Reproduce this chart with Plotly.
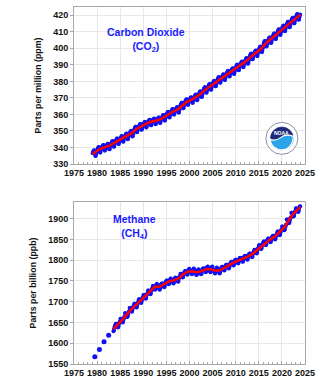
import plotly.graph_objects as go

# ---------------- DATA ----------------
co2_start_year = 1979  # monthly series starts January 1979
co2_monthly = [
    336.5,337.2,337.7,338.2,338.3,337.4,336.0,334.9,335.0,336.2,337.4,338.1,
    338.5,339.2,339.7,340.2,340.3,339.4,338.0,336.9,337.0,338.2,339.4,340.1,
    339.7,340.4,340.9,341.4,341.5,340.6,339.2,338.1,338.2,339.4,340.6,341.3,
    340.5,341.2,341.7,342.2,342.3,341.4,340.0,338.9,339.0,340.2,341.4,342.1,
    342.1,342.8,343.3,343.8,343.9,343.0,341.6,340.5,340.6,341.8,343.0,343.7,
    343.7,344.4,344.9,345.4,345.5,344.6,343.2,342.1,342.2,343.4,344.6,345.3,
    345.1,345.8,346.3,346.8,346.9,346.0,344.6,343.5,343.6,344.8,346.0,346.7,
    346.6,347.3,347.8,348.3,348.4,347.5,346.1,345.0,345.1,346.3,347.5,348.2,
    348.3,349.0,349.5,350.0,350.1,349.2,347.8,346.7,346.8,348.0,349.2,349.9,
    350.8,351.5,352.0,352.5,352.6,351.7,350.3,349.2,349.3,350.5,351.7,352.4,
    352.4,353.1,353.6,354.1,354.2,353.3,351.9,350.8,350.9,352.1,353.3,354.0,
    353.7,354.4,354.9,355.4,355.5,354.6,353.2,352.1,352.2,353.4,354.6,355.3,
    355.0,355.7,356.2,356.7,356.8,355.9,354.5,353.4,353.5,354.7,355.9,356.6,
    355.7,356.4,356.9,357.4,357.5,356.6,355.2,354.1,354.2,355.4,356.6,357.3,
    356.4,357.1,357.6,358.1,358.2,357.3,355.9,354.8,354.9,356.1,357.3,358.0,
    357.9,358.6,359.1,359.6,359.7,358.8,357.4,356.3,356.4,357.6,358.8,359.5,
    359.8,360.5,361.0,361.5,361.6,360.7,359.3,358.2,358.3,359.5,360.7,361.4,
    361.5,362.2,362.7,363.2,363.3,362.4,361.0,359.9,360.0,361.2,362.4,363.1,
    362.7,363.4,363.9,364.4,364.5,363.6,362.2,361.1,361.2,362.4,363.6,364.3,
    365.3,366.0,366.5,367.0,367.1,366.2,364.8,363.7,363.8,365.0,366.2,366.9,
    367.4,368.1,368.6,369.1,369.2,368.3,366.9,365.8,365.9,367.1,368.3,369.0,
    368.6,369.3,369.8,370.3,370.4,369.5,368.1,367.0,367.1,368.3,369.5,370.2,
    370.2,370.9,371.4,371.9,372.0,371.1,369.7,368.6,368.7,369.9,371.1,371.8,
    372.2,372.9,373.4,373.9,374.0,373.1,371.7,370.6,370.7,371.9,373.1,373.8,
    374.7,375.4,375.9,376.4,376.5,375.6,374.2,373.1,373.2,374.4,375.6,376.3,
    376.6,377.3,377.8,378.3,378.4,377.5,376.1,375.0,375.1,376.3,377.5,378.2,
    378.6,379.3,379.8,380.3,380.4,379.5,378.1,377.0,377.1,378.3,379.5,380.2,
    380.8,381.5,382.0,382.5,382.6,381.7,380.3,379.2,379.3,380.5,381.7,382.4,
    382.5,383.2,383.7,384.2,384.3,383.4,382.0,380.9,381.0,382.2,383.4,384.1,
    384.6,385.3,385.8,386.3,386.4,385.5,384.1,383.0,383.1,384.3,385.5,386.2,
    386.1,386.8,387.3,387.8,387.9,387.0,385.6,384.5,384.6,385.8,387.0,387.7,
    388.4,389.1,389.6,390.1,390.2,389.3,387.9,386.8,386.9,388.1,389.3,390.0,
    390.2,390.9,391.4,391.9,392.0,391.1,389.7,388.6,388.7,389.9,391.1,391.8,
    392.3,393.0,393.5,394.0,394.1,393.2,391.8,390.7,390.8,392.0,393.2,393.9,
    395.0,395.7,396.2,396.7,396.8,395.9,394.5,393.4,393.5,394.7,395.9,396.6,
    396.9,397.6,398.1,398.6,398.7,397.8,396.4,395.3,395.4,396.6,397.8,398.5,
    399.3,400.0,400.5,401.0,401.1,400.2,398.8,397.7,397.8,399.0,400.2,400.9,
    402.7,403.4,403.9,404.4,404.5,403.6,402.2,401.1,401.2,402.4,403.6,404.3,
    404.8,405.5,406.0,406.5,406.6,405.7,404.3,403.2,403.3,404.5,405.7,406.4,
    407.2,407.9,408.4,408.9,409.0,408.1,406.7,405.6,405.7,406.9,408.1,408.8,
    409.7,410.4,410.9,411.4,411.5,410.6,409.2,408.1,408.2,409.4,410.6,411.3,
    412.0,412.7,413.2,413.7,413.8,412.9,411.5,410.4,410.5,411.7,412.9,413.6,
    414.3,415.0,415.5,416.0,416.1,415.2,413.8,412.7,412.8,414.0,415.2,415.9,
    416.7,417.4,417.9,418.4,418.5,417.6,416.2,415.1,415.2,416.4,417.6,418.3,
    418.9,419.6,420.1,420.6,420.7,419.8,418.4,417.3,417.4,418.6,419.8,420.5,
]

co2_trend_years = [1979.0, 1979.5, 1980.5, 1981.5, 1982.5, 1983.5, 1984.5, 1985.5, 1986.5, 1987.5,
                   1988.5, 1989.5, 1990.5, 1991.5, 1992.5, 1993.5, 1994.5, 1995.5, 1996.5, 1997.5,
                   1998.5, 1999.5, 2000.5, 2001.5, 2002.5, 2003.5, 2004.5, 2005.5, 2006.5, 2007.5,
                   2008.5, 2009.5, 2010.5, 2011.5, 2012.5, 2013.5, 2014.5, 2015.5, 2016.5, 2017.5,
                   2018.5, 2019.5, 2020.5, 2021.5, 2022.5, 2023.5, 2024.0]
co2_trend = [335.9, 336.9, 338.9, 340.1, 340.9, 342.5, 344.1, 345.5, 347.0, 348.7,
             351.2, 352.8, 354.1, 355.4, 356.1, 356.8, 358.3, 360.2, 361.9, 363.1,
             365.7, 367.8, 369.0, 370.6, 372.6, 375.1, 377.0, 379.0, 381.2, 382.9,
             385.0, 386.5, 388.8, 390.6, 392.7, 395.4, 397.3, 399.7, 403.1, 405.2,
             407.6, 410.1, 412.4, 414.7, 417.1, 419.3, 420.4]

# Early methane annual values (dots) 1979-1982
ch4_early_years = [1979.5, 1980.5, 1981.5, 1982.5]
ch4_early = [1567.5, 1585.0, 1603.5, 1619.5]

ch4_start_year = 1983.5  # monthly series starts July 1983
ch4_monthly = [
    1629,1631,1636,1640,1642,1643,
    1647,1647,1646,1644,1642,1639,1638,1640,1645,1649,1651,1652,
    1659,1659,1658,1656,1654,1651,1650,1652,1657,1661,1663,1664,
    1672,1672,1671,1669,1667,1664,1663,1665,1670,1674,1676,1677,
    1685,1685,1684,1682,1680,1677,1676,1678,1683,1687,1689,1690,
    1695,1695,1694,1692,1690,1687,1686,1688,1693,1697,1699,1700,
    1706,1706,1705,1703,1701,1698,1697,1699,1704,1708,1710,1711,
    1716,1716,1715,1713,1711,1708,1707,1709,1714,1718,1720,1721,
    1727,1727,1726,1724,1722,1719,1718,1720,1725,1729,1731,1732,
    1738,1738,1737,1735,1733,1730,1729,1731,1736,1740,1742,1743,
    1738,1738,1737,1735,1733,1730,1729,1731,1736,1740,1742,1743,
    1744,1744,1743,1741,1739,1736,1735,1737,1742,1746,1748,1749,
    1751,1751,1750,1748,1746,1743,1742,1744,1749,1753,1755,1756,
    1753,1753,1752,1750,1748,1745,1744,1746,1751,1755,1757,1758,
    1757,1757,1756,1754,1752,1749,1748,1750,1755,1759,1761,1762,
    1767,1767,1766,1764,1762,1759,1758,1760,1765,1769,1771,1772,
    1774,1774,1773,1771,1769,1766,1765,1767,1772,1776,1778,1779,
    1775,1775,1774,1772,1770,1767,1766,1768,1773,1777,1779,1780,
    1773,1773,1772,1770,1768,1765,1764,1766,1771,1775,1777,1778,
    1775,1775,1774,1772,1770,1767,1766,1768,1773,1777,1779,1780,
    1780,1780,1779,1777,1775,1772,1771,1773,1778,1782,1784,1785,
    1780,1780,1779,1777,1775,1772,1771,1773,1778,1782,1784,1785,
    1777,1777,1776,1774,1772,1769,1768,1770,1775,1779,1781,1782,
    1777,1777,1776,1774,1772,1769,1768,1770,1775,1779,1781,1782,
    1784,1784,1783,1781,1779,1776,1775,1777,1782,1786,1788,1789,
    1789,1789,1788,1786,1784,1781,1780,1782,1787,1791,1793,1794,
    1796,1796,1795,1793,1791,1788,1787,1789,1794,1798,1800,1801,
    1801,1801,1800,1798,1796,1793,1792,1794,1799,1803,1805,1806,
    1805,1805,1804,1802,1800,1797,1796,1798,1803,1807,1809,1810,
    1810,1810,1809,1807,1805,1802,1801,1803,1808,1812,1814,1815,
    1816,1816,1815,1813,1811,1808,1807,1809,1814,1818,1820,1821,
    1825,1825,1824,1822,1820,1817,1816,1818,1823,1827,1829,1830,
    1836,1836,1835,1833,1831,1828,1827,1829,1834,1838,1840,1841,
    1845,1845,1844,1842,1840,1837,1836,1838,1843,1847,1849,1850,
    1852,1852,1851,1849,1847,1844,1843,1845,1850,1854,1856,1857,
    1859,1859,1858,1856,1854,1851,1850,1852,1857,1861,1863,1864,
    1869,1869,1868,1866,1864,1861,1860,1862,1867,1871,1873,1874,
    1881,1881,1880,1878,1876,1873,1872,1874,1879,1883,1885,1886,
    1898,1898,1897,1895,1893,1890,1889,1891,1896,1900,1902,1903,
    1914,1914,1913,1911,1909,1906,1905,1907,1912,1916,1918,1919,
    1925,1925,1924,1922,1920,1917,1916,1918,1923,1927,1929,1930,
]

ch4_trend_years = [1983.5, 1984.5, 1985.5, 1986.5, 1987.5, 1988.5, 1989.5, 1990.5, 1991.5, 1992.5,
                   1993.5, 1994.5, 1995.5, 1996.5, 1997.5, 1998.5, 1999.5, 2000.5, 2001.5, 2002.5,
                   2003.5, 2004.5, 2005.5, 2006.5, 2007.5, 2008.5, 2009.5, 2010.5, 2011.5, 2012.5,
                   2013.5, 2014.5, 2015.5, 2016.5, 2017.5, 2018.5, 2019.5, 2020.5, 2021.5, 2022.5,
                   2023.5, 2024.0]
ch4_trend = [1634, 1645, 1657, 1670, 1683, 1693, 1704, 1714, 1725, 1736,
             1736, 1742, 1749, 1751, 1755, 1765, 1772, 1773, 1771, 1773,
             1778, 1778, 1775, 1775, 1782, 1787, 1794, 1799, 1803, 1808,
             1814, 1823, 1834, 1843, 1850, 1857, 1867, 1879, 1896, 1912,
             1923, 1928]

x_ticks = [1975, 1980, 1985, 1990, 1995, 2000, 2005, 2010, 2015, 2020, 2025]

# ---------------- FIGURE ----------------
BLUE = "#1010f4"
RED = "#ff0000"

co2_x = [co2_start_year + (i + 0.5) / 12 for i in range(len(co2_monthly))]
ch4_x = [ch4_start_year + (i + 0.5) / 12 for i in range(len(ch4_monthly))]

fig = go.Figure()
fig.add_trace(go.Scatter(x=co2_x, y=co2_monthly, mode="markers",
                         marker=dict(color=BLUE, size=4), xaxis="x", yaxis="y",
                         showlegend=False, hoverinfo="skip"))
fig.add_trace(go.Scatter(x=co2_trend_years, y=co2_trend, mode="lines",
                         line=dict(color=RED, width=2.5), xaxis="x", yaxis="y",
                         showlegend=False))
fig.add_trace(go.Scatter(x=ch4_early_years, y=ch4_early, mode="markers",
                         marker=dict(color=BLUE, size=5), xaxis="x2", yaxis="y2",
                         showlegend=False))
fig.add_trace(go.Scatter(x=ch4_x, y=ch4_monthly, mode="markers",
                         marker=dict(color=BLUE, size=4), xaxis="x2", yaxis="y2",
                         showlegend=False, hoverinfo="skip"))
fig.add_trace(go.Scatter(x=ch4_trend_years, y=ch4_trend, mode="lines",
                         line=dict(color=RED, width=2.5), xaxis="x2", yaxis="y2",
                         showlegend=False))

tick_font = dict(family="Liberation Sans, Arial, sans-serif", size=9, color="#111111", weight="bold")
title_font = dict(family="Liberation Sans, Arial, sans-serif", size=8.8, color="#111111", weight="bold")
GRID = "#e8e8e8"
FRAME = "#a8a8a8"

def xaxis_cfg(anchor):
    return dict(range=[1975, 2025], tickvals=x_ticks, showgrid=True, gridcolor=GRID, gridwidth=1,
                showline=True, linecolor=FRAME, linewidth=1, mirror=True, zeroline=False,
                ticks="inside", ticklen=3, tickcolor=FRAME,
                minor=dict(dtick=1, ticks="inside", ticklen=2, tickcolor=FRAME, showgrid=False),
                tickfont=tick_font, anchor=anchor, domain=[0, 1], fixedrange=True)

def yaxis_cfg(rng, dtick, title, domain, anchor):
    return dict(range=rng, dtick=dtick, tick0=rng[0], showgrid=True, gridcolor=GRID, gridwidth=1,
                showline=True, linecolor=FRAME, linewidth=1, mirror=True, zeroline=False,
                ticks="outside", ticklen=3, tickcolor=FRAME, tickfont=tick_font,
                title=dict(text=title, font=title_font, standoff=10),
                domain=domain, anchor=anchor, fixedrange=True)

fig.update_layout(
    width=324, height=392,
    margin=dict(l=74, r=19, t=7, b=28),
    paper_bgcolor="white", plot_bgcolor="white",
    xaxis=xaxis_cfg("y"),
    yaxis=yaxis_cfg([330, 425], 10, "Parts per million (ppm)", [0.5602, 1.0], "x"),
    xaxis2=xaxis_cfg("y2"),
    yaxis2=yaxis_cfg([1550, 1940], 50, "Parts per billion (ppb)", [0.0, 0.4538], "x2"),
)

ann_font = dict(family="Liberation Sans, Arial, sans-serif", size=10.5, color="#1a1aff", weight="bold")
fig.add_annotation(text="Carbon Dioxide<br>(CO<sub>2</sub>)", xref="x domain", yref="y domain",
                   x=0.312, y=0.79, xanchor="center", yanchor="middle",
                   showarrow=False, font=ann_font, align="center")
fig.add_annotation(text="Methane<br>(CH<sub>4</sub>)", xref="x2 domain", yref="y2 domain",
                   x=0.262, y=0.846, xanchor="center", yanchor="middle",
                   showarrow=False, font=ann_font, align="center")

# NOAA logo drawn with shapes (pixel-sized, anchored in data space)
logo_x, logo_y = 2020.0, 345.5
common = dict(xref="x", yref="y", xsizemode="pixel", ysizemode="pixel",
              xanchor=logo_x, yanchor=logo_y, layer="above")
fig.add_shape(type="circle", x0=-16, x1=16, y0=-16, y1=16, fillcolor="white",
              line=dict(color="#8890a8", width=1), **common)
fig.add_shape(type="circle", x0=-11.5, x1=11.5, y0=-11.5, y1=11.5, fillcolor="#1c2a78",
              line=dict(color="#1c2a78", width=0.5), **common)
fig.add_shape(type="path",
              path="M -11.5 -1 Q -6 -3 -1 1 Q 4 5 11.5 2 C 11 -7 6 -11.5 0 -11.5 C -6 -11.5 -11.5 -7 -11.5 -1 Z",
              fillcolor="#2aa3e8", line=dict(color="white", width=1.2), **common)
fig.add_annotation(text="NOAA", xref="x", yref="y", x=logo_x, y=logo_y + 3.4, showarrow=False,
                   xanchor="center", yanchor="middle",
                   font=dict(family="Liberation Sans, Arial", size=5, color="white", weight="bold"))

fig.write_html("out.html")
